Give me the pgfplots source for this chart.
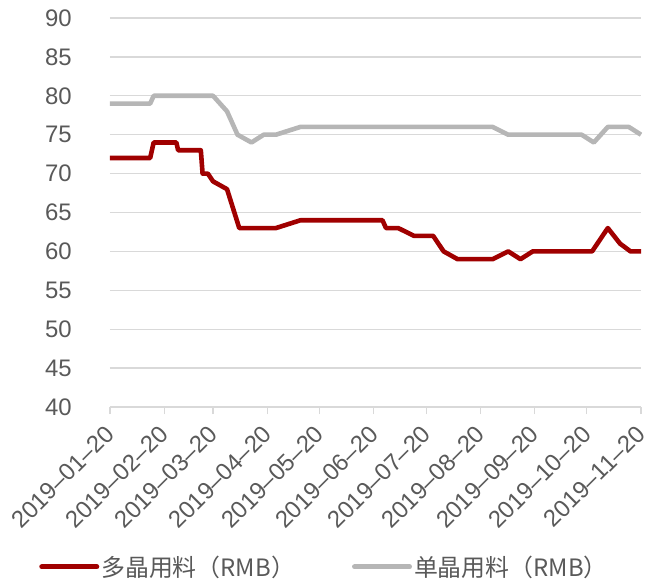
\documentclass[border=0pt]{standalone}
\usepackage{pgfplots}
\pgfplotsset{compat=1.18}
\usepackage{fontspec}
\setmainfont{Liberation Sans}
\newfontfamily\cjk{Noto Sans CJK SC}
\definecolor{redline}{RGB}{160,0,0}
\definecolor{grayline}{RGB}{182,182,182}
\definecolor{gridc}{RGB}{217,217,217}
\definecolor{textc}{RGB}{89,89,89}
\begin{document}
\begin{tikzpicture}
\useasboundingbox (-110bp,-179bp) rectangle (536bp,407bp);
\begin{axis}[
  at={(0,0)}, anchor=south west,
  width=531bp, height=389bp, scale only axis,
  xmin=0, xmax=304, ymin=40, ymax=90,
  ytick={40,45,...,90},
  xtick={0,31,59,90,120,151,181,212,243,273,304},
  xticklabels={2019--01--20,2019--02--20,2019--03--20,2019--04--20,2019--05--20,2019--06--20,2019--07--20,2019--08--20,2019--09--20,2019--10--20,2019--11--20},
  /pgf/number format/assume math mode=true,
  axis line style={draw=none},
  axis x line*=bottom,
  x axis line style={draw=gridc, line width=1.5bp},
  axis y line*=left,
  y axis line style={draw=none},
  ytick style={draw=none},
  xtick style={draw=gridc, line width=1.2bp},
  tick align=outside,
  major tick length=7bp,
  ymajorgrids, grid style={draw=gridc, line width=1.3bp},
  yticklabel style={font=\fontsize{24}{28}\selectfont, text=textc, anchor=east, inner sep=0pt, xshift=-31bp},
  xticklabel style={font=\fontsize{24}{28}\selectfont, text=textc, rotate=45, anchor=east, inner sep=0pt},
  xticklabel shift=16bp,
  clip=false,
  legend columns=2,
  legend style={at={(0.404,-0.411)}, anchor=center, draw=none, fill=none,
    font=\cjk\fontsize{24}{28}\selectfont, text=textc,
    /tikz/every even column/.append style={column sep=55bp},
    /tikz/every odd column/.append style={column sep=0bp},
    inner sep=0pt},
  legend image code/.code={\draw[#1, line width=5bp, line cap=round] (0bp,0bp) -- (55bp,0bp);},
  line join=round,
]
\addplot[color=redline, line width=4.6bp] coordinates {
(0,72) (23,72) (25,74) (38,74) (39,73) (52,73) (53,70) (56,70) (59,69) (67,68) (74,63) (95,63) (109,64) (156,64) (158,63) (165,63) (174,62) (185,62) (191,60) (199,59) (219,59) (228,60) (235,59) (242,60) (276,60) (285,63) (292,61) (298,60) (304,60)
};
\addlegendentry{多晶用料（RMB）}
\addplot[color=grayline, line width=4.6bp] coordinates {
(0,79) (23,79) (25,80) (59,80) (67,78) (73,75) (81,74) (88,75) (95,75) (109,76) (219,76) (228,75) (270,75) (277,74) (285,76) (297,76) (304,75)
};
\addlegendentry{单晶用料（RMB）}
\end{axis}
\end{tikzpicture}
\end{document}
